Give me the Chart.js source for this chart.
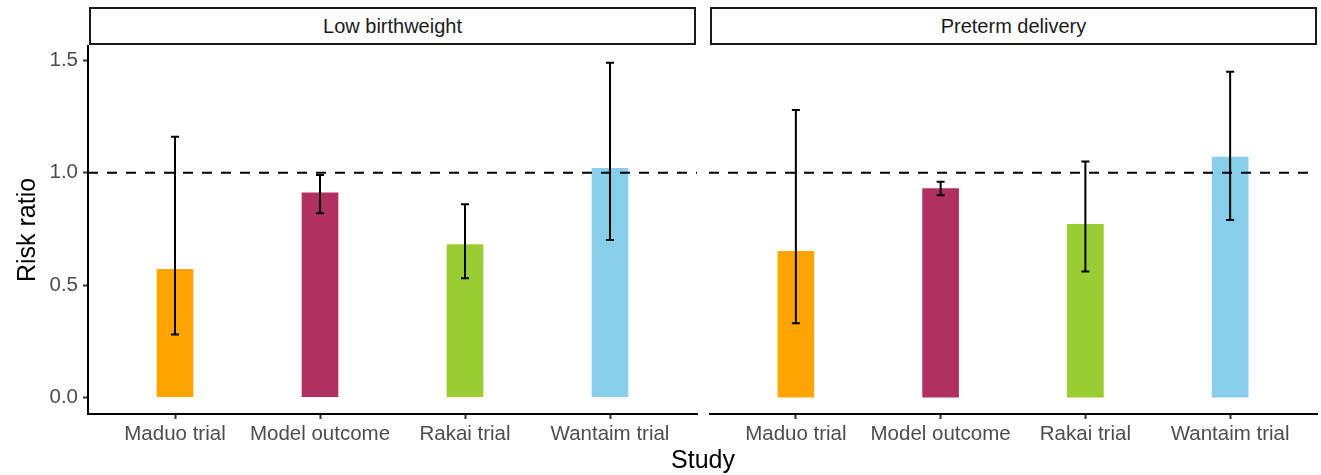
<!DOCTYPE html>
<html>
<head>
<meta charset="utf-8">
<script src="https://cdn.jsdelivr.net/npm/chart.js@4/dist/chart.umd.min.js"></script>
<style>
  body { margin: 0; background: #fff; font-family: "Liberation Sans", Arial, sans-serif; }
  #wrap { position: relative; width: 1321px; height: 475px; overflow: hidden; }
  canvas { position: absolute; top: 0; }
  .strip { position: absolute; top: 7px; height: 38px; box-sizing: border-box;
           border: 2px solid #1a1a1a; font-size: 20px; color: #1a1a1a;
           line-height: 34px; text-align: center; background: #fff; }
  #xtitle { position: absolute; top: 445px; left: 0; width: 1406px; text-align: center;
            font-size: 25px; color: #000; }
</style>
</head>
<body>
<div id="wrap">
  <canvas id="left" width="698" height="475" style="left:0px"></canvas>
  <canvas id="right" width="612" height="475" style="left:709px"></canvas>
  <div class="strip" id="strip0" style="left:89px; width:607px;"></div>
  <div class="strip" id="strip1" style="left:710px; width:607px;"></div>
  <div id="xtitle">Study</div>
</div>
<script>
// Data
const studies = ['Maduo trial', 'Model outcome', 'Rakai trial', 'Wantaim trial'];
const panels = ['Low birthweight', 'Preterm delivery'];
const lbwRR = [0.57, 0.91, 0.68, 1.02];
const lbwLo = [0.28, 0.82, 0.53, 0.70];
const lbwHi = [1.16, 0.99, 0.86, 1.49];
const ptdRR = [0.65, 0.93, 0.77, 1.07];
const ptdLo = [0.33, 0.90, 0.56, 0.79];
const ptdHi = [1.28, 0.96, 1.05, 1.45];
const barColors = ['#FFA500', '#B03060', '#9ACD32', '#87CEEB'];
const yTicks = [0, 0.5, 1.0, 1.5];
const refLine = 1;

document.getElementById('strip0').textContent = panels[0];
document.getElementById('strip1').textContent = panels[1];

const FONT = '"Liberation Sans", Arial, sans-serif';

// error bars + dashed reference line
const extras = {
    id: 'extras',
    afterDatasetsDraw(chart, args, opts) {
        const ctx = chart.ctx;
        const xs = chart.scales.x, ys = chart.scales.y;
        const area = chart.chartArea;
        ctx.save();
        ctx.strokeStyle = '#000';
        ctx.lineWidth = 2;
        opts.lo.forEach((lo, i) => {
            const x = xs.getPixelForValue(i + 1);
            const y1 = ys.getPixelForValue(lo);
            const y2 = ys.getPixelForValue(opts.hi[i]);
            ctx.beginPath();
            ctx.moveTo(x, y1); ctx.lineTo(x, y2);
            ctx.moveTo(x - 4, y1); ctx.lineTo(x + 4, y1);
            ctx.moveTo(x - 4, y2); ctx.lineTo(x + 4, y2);
            ctx.stroke();
        });
        const yr = ys.getPixelForValue(refLine);
        ctx.setLineDash([10, 9]);
        ctx.beginPath();
        ctx.moveTo(area.left, yr);
        ctx.lineTo(area.right, yr);
        ctx.stroke();
        ctx.restore();
    }
};

function makeChart(id, rr, lo, hi, showY) {
    const axisLine = { display: true, color: '#000', width: 2 };
    const tickGrid = { drawOnChartArea: false, drawTicks: true, offset: false, tickLength: 5, tickColor: '#333', tickWidth: 2 };
    return new Chart(document.getElementById(id), {
        type: 'bar',
        data: {
            datasets: [{
                data: rr.map((v, i) => ({ x: i + 1, y: v })),
                backgroundColor: barColors,
                barThickness: 36
            }]
        },
        options: {
            responsive: false,
            animation: false,
            layout: { padding: showY ? { top: 46, left: 9, right: 1, bottom: 0 } : { top: 46, left: 0, right: 4, bottom: 0 } },
            plugins: {
                legend: { display: false },
                tooltip: { enabled: false },
                extras: { lo: lo, hi: hi }
            },
            scales: {
                x: {
                    type: 'linear',
                    offset: false,
                    min: 0.4, max: 4.6,
                    border: axisLine,
                    grid: tickGrid,
                    afterBuildTicks: s => { s.ticks = studies.map((_, i) => ({ value: i + 1 })); },
                    afterFit: s => { s.height = 61; },
                    ticks: {
                        autoSkip: false, maxRotation: 0, padding: 3,
                        color: '#4D4D4D', font: { family: FONT, size: 20.5 },
                        callback: v => studies[v - 1]
                    }
                },
                y: {
                    display: showY,
                    min: -0.0745, max: 1.5645,
                    border: axisLine,
                    grid: tickGrid,
                    afterBuildTicks: s => { s.ticks = yTicks.map(v => ({ value: v })); },
                    afterFit: s => { s.width = showY ? 79 : 0; },
                    ticks: {
                        padding: 5,
                        color: '#4D4D4D', font: { family: FONT, size: 20.5 },
                        callback: v => v.toFixed(1)
                    },
                    title: {
                        display: true, text: 'Risk ratio', color: '#000',
                        font: { family: FONT, size: 25 }, padding: 4
                    }
                }
            }
        },
        plugins: [extras]
    });
}

makeChart('left', lbwRR, lbwLo, lbwHi, true);
makeChart('right', ptdRR, ptdLo, ptdHi, false);
</script>
</body>
</html>
